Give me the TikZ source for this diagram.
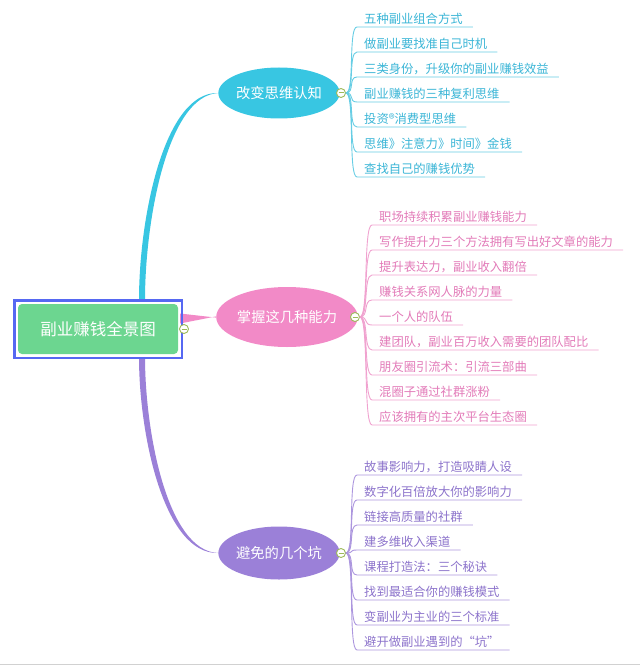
\documentclass[tikz,border=0pt]{standalone}
\usepackage{fontspec}
\setmainfont{Noto Sans CJK SC}
\usetikzlibrary{shapes.geometric,fit,backgrounds}
\definecolor{rootgreen}{HTML}{6CD690}
\definecolor{selblue}{HTML}{5668F2}
\definecolor{cyanmain}{HTML}{38C6E2}
\definecolor{cyanleaf}{HTML}{3AB5D6}
\definecolor{cyanline}{HTML}{66CDE4}
\definecolor{pinkmain}{HTML}{F28AC7}
\definecolor{pinkleaf}{HTML}{E27AB8}
\definecolor{pinkline}{HTML}{F0A2CF}
\definecolor{purplemain}{HTML}{9B80D8}
\definecolor{purpleleaf}{HTML}{8C73CB}
\definecolor{purpleline}{HTML}{AC96DE}
\definecolor{olivering}{HTML}{9DBA5A}
\begin{document}
\begin{tikzpicture}[x=1pt,y=-1pt,
   rootbox/.style={rectangle,rounded corners=4pt,fill=rootgreen,text=white,
     minimum width=160pt,minimum height=50pt,font=\fontsize{16.5}{18}\selectfont},
   topic/.style={ellipse,fill=#1,text=white,inner sep=0pt,
     font=\fontsize{14.3}{16}\selectfont},
   leaf/.style={anchor=south west,text=#1,inner xsep=7pt,inner ysep=1.5pt,
     text height=10pt,text depth=2pt,font=\fontsize{12.3}{14}\selectfont},
   collapse/.style={circle,draw=olivering,fill=white,line width=0.9pt,
     minimum size=9pt,inner sep=0pt,
     path picture={\draw[olivering,line width=1pt]
       ([xshift=2pt]path picture bounding box.west) --
       ([xshift=-2pt]path picture bounding box.east);}},
   twig/.style={draw=#1,line width=0.9pt}]
   \useasboundingbox (0,0) rectangle (640,666);
   \draw[black!18,line width=1pt] (0,664) -- (640,664);

   \node[rootbox] (root) at (98,329) {副业赚钱全景图};
   \node[fit=(root),draw=selblue,line width=2.4pt,inner sep=3.5pt] (rootframe) {};
   \node[collapse] (c0) at (184,329) {};

   \node[topic=cyanmain,minimum width=112pt,minimum height=51pt] (t1) at (279,93) {改变思维认知};
   \node[topic=pinkmain,minimum width=127pt,minimum height=60pt] (t2) at (287,317) {掌握这几种能力};
   \node[topic=purplemain,minimum width=112pt,minimum height=53pt] (t3) at (279,553) {避免的几个坑};
   \node[collapse] (c1) at (341,93) {};
   \node[collapse] (c2) at (355,317) {};
   \node[collapse] (c3) at (341,553) {};

   \begin{scope}[on background layer]
     \fill[cyanmain] (139,300) .. controls (139,218) and (164,91.5) .. (t1.west)
       .. controls (167,96) and (145,222) .. (145,300) -- cycle;
     \fill[pinkmain] (180,313.5) -- ([yshift=-0.6pt]t2.west) -- ([yshift=0.6pt]t2.west)
       -- (180,323.5) -- cycle;
     \fill[purplemain] (139,357) .. controls (139,435) and (164,554.5) .. (t3.west)
       .. controls (167,551) and (145,431) .. (145,357) -- cycle;
   \end{scope}

   \foreach \txt [count=\i] in {五种副业组合方式,做副业要找准自己时机,
       三类身份，升级你的副业赚钱效益,副业赚钱的三种复利思维,投资®消费型思维,
       思维》注意力》时间》金钱,查找自己的赚钱优势}
   {
     \node[leaf=cyanleaf] (a\i) at (357,2+25*\i) {\txt};
     \draw[twig=cyanline] (c1.east) .. controls +(9,0) and +(-9,0) .. (a\i.south west)
       -- ([xshift=3pt]a\i.south east);
   }
   \foreach \txt [count=\i] in {职场持续积累副业赚钱能力,写作提升力三个方法拥有写出好文章的能力,
       提升表达力，副业收入翻倍,赚钱关系网人脉的力量,一个人的队伍,
       建团队，副业百万收入需要的团队配比,朋友圈引流术：引流三部曲,
       混圈子通过社群涨粉,应该拥有的主次平台生态圈}
   {
     \node[leaf=pinkleaf] (b\i) at (372,200+25*\i) {\txt};
     \draw[twig=pinkline] (c2.east) .. controls +(9,0) and +(-9,0) .. (b\i.south west)
       -- ([xshift=3pt]b\i.south east);
   }
   \foreach \txt [count=\i] in {故事影响力，打造吸睛人设,数字化百倍放大你的影响力,
       链接高质量的社群,建多维收入渠道,课程打造法：三个秘诀,
       找到最适合你的赚钱模式,变副业为主业的三个标准,避开做副业遇到的“坑”}
   {
     \node[leaf=purpleleaf] (d\i) at (357,450+25*\i) {\txt};
     \draw[twig=purpleline] (c3.east) .. controls +(9,0) and +(-9,0) .. (d\i.south west)
       -- ([xshift=3pt]d\i.south east);
   }
\end{tikzpicture}
\end{document}
